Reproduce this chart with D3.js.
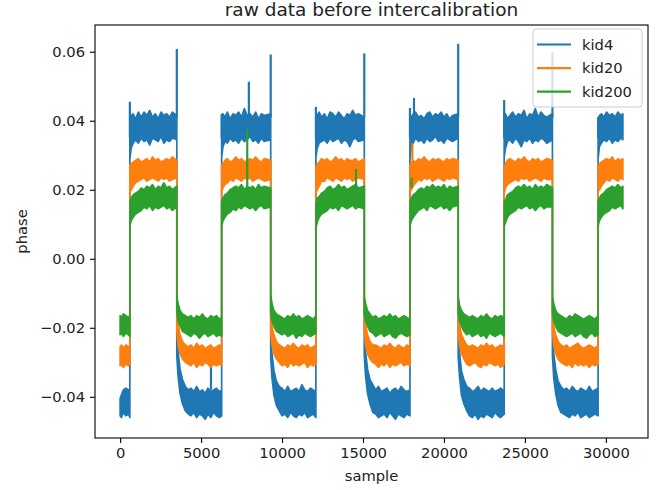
<!DOCTYPE html>
<html><head><meta charset="utf-8">
<script src="https://cdn.jsdelivr.net/npm/d3@7"></script>
<style>body{margin:0;background:#fff} text{font-family:"DejaVu Sans",sans-serif}</style>
</head><body><svg id="c" width="671" height="490"></svg>
<script>
const seriesNames = ["kid4", "kid20", "kid200"];
const seriesColors = ["#1f77b4", "#ff7f0e", "#2ca02c"];
const titleText = "raw data before intercalibration";
const xLabel = "sample", yLabel = "phase";
const xTicks = [0, 5000, 10000, 15000, 20000, 25000, 30000];
const yTicks = [-0.04, -0.02, 0.00, 0.02, 0.04, 0.06];

// segments of the square wave (sample index), alternating low/high
const segStart = [0, 600, 3500, 6270, 9300, 12090, 15080, 17900, 20880, 23720, 26700, 29520];
const segEnd   = [600, 3500, 6270, 9300, 12090, 15080, 17900, 20880, 23720, 26700, 29520, 31050];
// sample offsets (from segment start) at which the trace edges were read; last point = segment end
const segOffsets = [0, 80, 200, 350, 525, 700, 875, 1050, 1225, 1400, 1575, 1750, 1925, 2100, 2275, 2450, 2625];

// upper / lower edge of each noisy trace, read per segment
const kid4Hi = [
 [-.0405, -.0395, -.038, -.0375, -.038, -.0385],
 [.041, .0415, .042, .0405, .0425, .041, .0425, .0415, .043, .041, .042, .0405, .0425, .0415, .042, .041, .0425, .0415],
 [-.020, -.027, -.032, -.035, -.037, -.038, -.0375, -.0385, -.037, -.0385, -.038, -.039, -.0375, -.0385, -.038, -.0375, -.0385, -.038],
 [.0405, .042, .041, .0425, .0405, .042, .0415, .0425, .041, .0435, .0415, .042, .041, .0425, .0405, .042, .0415, .042],
 [-.0205, -.0275, -.0325, -.0355, -.037, -.0375, -.0385, -.037, -.0385, -.038, -.0375, -.0385, -.0365, -.038, -.0385, -.0375, -.038, -.0385],
 [.041, .0415, .0425, .041, .042, .0405, .0425, .042, .041, .0425, .0415, .0405, .042, .0415, .043, .0415, .042, .041],
 [-.020, -.027, -.032, -.035, -.0365, -.038, -.037, -.0385, -.038, -.0375, -.039, -.038, -.0375, -.0385, -.037, -.038, -.0385, -.038],
 [.0415, .041, .042, .0425, .041, .0415, .0405, .042, .0425, .041, .042, .0415, .0425, .041, .042, .0405, .0415, .042],
 [-.0205, -.027, -.0325, -.035, -.037, -.0375, -.0385, -.038, -.037, -.0385, -.0375, -.038, -.0385, -.0375, -.0385, -.038, -.0375, -.0385],
 [.041, .042, .0405, .0415, .0425, .041, .042, .0415, .043, .0405, .042, .0415, .0435, .041, .0425, .0415, .041, .042],
 [-.020, -.0275, -.032, -.0355, -.037, -.038, -.0375, -.0385, -.037, -.038, -.0385, -.0375, -.038, -.0385, -.037, -.0385, -.038, -.0375],
 [.0405, .0415, .042, .041, .0425, .0415, .042, .041, .0425, .0415, .042]
];
const kid4Lo = [
 [-.0455, -.046, -.0445, -.0455, -.045, -.046],
 [.029, .032, .0335, .0345, .0335, .035, .034, .0345, .033, .035, .0345, .034, .0355, .0335, .0345, .034, .035, .0345],
 [-.028, -.034, -.039, -.042, -.044, -.045, -.0455, -.0445, -.046, -.045, -.0455, -.0465, -.045, -.046, -.0445, -.0455, -.046, -.0455],
 [.0295, .0325, .034, .0335, .035, .034, .0345, .0335, .035, .034, .0345, .0355, .034, .0345, .0335, .035, .034, .0345],
 [-.0285, -.0345, -.0395, -.0425, -.044, -.0455, -.045, -.046, -.0445, -.0455, -.046, -.045, -.0455, -.0445, -.046, -.0455, -.045, -.046],
 [.0295, .032, .0335, .034, .0345, .0335, .035, .034, .0345, .035, .0335, .0345, .034, .0325, .0345, .035, .034, .0345],
 [-.028, -.034, -.039, -.042, -.0445, -.045, -.046, -.0455, -.045, -.046, -.0445, -.0455, -.0465, -.045, -.0455, -.046, -.045, -.0455],
 [.029, .0325, .0335, .035, .034, .0345, .0335, .035, .034, .0345, .0355, .034, .0345, .0335, .035, .0345, .034, .035],
 [-.0285, -.034, -.0395, -.042, -.044, -.0455, -.046, -.045, -.0465, -.0455, -.046, -.045, -.0455, -.046, -.0445, -.0455, -.046, -.045],
 [.0295, .032, .034, .0345, .0335, .035, .034, .0325, .0345, .034, .035, .0335, .0345, .034, .035, .0345, .0335, .0345],
 [-.028, -.0345, -.039, -.0425, -.0445, -.045, -.0455, -.046, -.045, -.0455, -.0445, -.046, -.0455, -.045, -.046, -.0455, -.045, -.0455],
 [.029, .0325, .0335, .0345, .034, .035, .0335, .0345, .034, .035, .0345]
];
const kid20Hi = [
 [-.0255, -.025, -.026, -.025, -.0255, -.0255],
 [.027, .0275, .028, .0285, .029, .028, .0285, .029, .028, .0295, .0285, .029, .028, .0285, .029, .0285, .0295, .0285],
 [-.016, -.019, -.022, -.024, -.025, -.0255, -.025, -.026, -.0245, -.0255, -.025, -.026, -.0255, -.025, -.026, -.0255, -.025, -.0255],
 [.027, .0275, .0285, .029, .028, .0285, .0295, .0285, .029, .028, .0285, .029, .0285, .0295, .0285, .028, .029, .0285],
 [-.016, -.0195, -.022, -.024, -.025, -.0255, -.026, -.025, -.0255, -.0245, -.0255, -.026, -.025, -.0255, -.025, -.026, -.0255, -.025],
 [.0265, .0275, .028, .029, .0285, .029, .028, .0285, .0295, .0285, .029, .028, .029, .0285, .0285, .029, .028, .029],
 [-.0155, -.019, -.022, -.024, -.025, -.025, -.0255, -.026, -.025, -.0255, -.0245, -.0255, -.026, -.025, -.0255, -.026, -.025, -.0255],
 [.027, .028, .0285, .028, .029, .0285, .0295, .0285, .028, .029, .0285, .029, .0285, .028, .029, .0285, .029, .0285],
 [-.016, -.019, -.022, -.0235, -.025, -.0255, -.025, -.0255, -.026, -.025, -.0255, -.0245, -.0255, -.025, -.026, -.0255, -.025, -.0255],
 [.0265, .0275, .0285, .029, .0285, .028, .029, .0285, .0295, .0285, .028, .029, .0285, .029, .028, .0285, .029, .0285],
 [-.016, -.0195, -.022, -.024, -.025, -.0255, -.025, -.026, -.0255, -.025, -.0245, -.0255, -.026, -.0255, -.025, -.0255, -.026, -.025],
 [.027, .0275, .028, .0285, .029, .0285, .0295, .028, .029, .0285, .029]
];
const kid20Lo = [
 [-.031, -.0305, -.0315, -.0305, -.031, -.0305],
 [.019, .020, .021, .022, .0225, .023, .0235, .0225, .023, .0235, .023, .0225, .0235, .023, .0235, .0225, .023, .0235],
 [-.021, -.025, -.0275, -.029, -.030, -.0305, -.031, -.030, -.0315, -.0305, -.031, -.030, -.0305, -.0315, -.0305, -.031, -.0305, -.031],
 [.0195, .0205, .0215, .022, .023, .0225, .0235, .023, .0225, .0235, .023, .0235, .0225, .023, .0235, .023, .0225, .023],
 [-.0215, -.025, -.0275, -.029, -.030, -.031, -.0305, -.0315, -.030, -.031, -.0305, -.031, -.0305, -.030, -.0315, -.0305, -.031, -.0305],
 [.019, .020, .021, .0225, .0225, .0235, .023, .0225, .0235, .023, .0225, .0235, .023, .0235, .0225, .023, .0235, .023],
 [-.021, -.025, -.0275, -.029, -.030, -.0305, -.0315, -.0305, -.031, -.030, -.0315, -.0305, -.031, -.0305, -.030, -.031, -.0305, -.031],
 [.0195, .020, .021, .022, .023, .0225, .0235, .023, .0235, .0225, .023, .0235, .023, .0225, .0235, .023, .0235, .023],
 [-.0215, -.025, -.0275, -.029, -.0305, -.031, -.0305, -.030, -.031, -.0315, -.0305, -.031, -.030, -.0305, -.031, -.0305, -.0315, -.0305],
 [.019, .0205, .0215, .022, .0225, .023, .0225, .0235, .023, .0235, .0225, .023, .0235, .023, .0225, .0235, .023, .023],
 [-.021, -.025, -.0275, -.029, -.030, -.0305, -.031, -.0305, -.0315, -.030, -.031, -.0305, -.031, -.0305, -.0315, -.0305, -.031, -.0305],
 [.0195, .020, .021, .022, .023, .0225, .0235, .023, .0225, .0235, .023]
];
const kid200Hi = [
 [-.0165, -.017, -.016, -.0165, -.017, -.0165],
 [.0165, .0175, .0185, .019, .0195, .0205, .020, .021, .0205, .0215, .020, .021, .0205, .022, .0205, .021, .020, .021],
 [-.011, -.013, -.015, -.016, -.0165, -.017, -.0165, -.0175, -.0165, -.017, -.016, -.017, -.0175, -.0165, -.017, -.0165, -.0175, -.017],
 [.0165, .0175, .0185, .019, .020, .0205, .021, .0205, .0215, .020, .021, .0205, .021, .020, .0215, .0205, .021, .0205],
 [-.0105, -.013, -.015, -.016, -.0165, -.017, -.0175, -.0165, -.017, -.016, -.017, -.0165, -.0175, -.017, -.0165, -.017, -.0175, -.0165],
 [.016, .0175, .018, .019, .0195, .0205, .021, .020, .0205, .0215, .0205, .021, .020, .0205, .021, .0215, .0205, .021],
 [-.011, -.013, -.015, -.016, -.017, -.0165, -.0175, -.017, -.0165, -.017, -.016, -.017, -.0165, -.0175, -.017, -.0165, -.017, -.0175],
 [.0165, .0175, .0185, .019, .020, .0205, .020, .021, .0205, .0215, .0205, .021, .0205, .0215, .020, .021, .0205, .021],
 [-.011, -.0135, -.015, -.016, -.0165, -.017, -.0165, -.017, -.0175, -.0165, -.017, -.016, -.017, -.0175, -.0165, -.017, -.0165, -.017],
 [.0165, .017, .0185, .019, .0195, .0205, .021, .0205, .0215, .0205, .021, .020, .0215, .0205, .021, .0205, .0215, .0205],
 [-.011, -.013, -.015, -.016, -.0165, -.017, -.0175, -.0165, -.017, -.016, -.0165, -.017, -.0175, -.017, -.0165, -.017, -.0175, -.0165],
 [.0165, .0175, .0185, .019, .020, .0205, .021, .0205, .0215, .0205, .021]
];
const kid200Lo = [
 [-.022, -.0215, -.0225, -.0215, -.022, -.0225],
 [.0095, .011, .012, .013, .0135, .014, .015, .0145, .0155, .014, .015, .0145, .015, .0155, .0145, .015, .014, .015],
 [-.0155, -.018, -.0195, -.021, -.0215, -.022, -.0225, -.0215, -.022, -.023, -.022, -.0215, -.0225, -.022, -.0215, -.0225, -.022, -.0225],
 [.0095, .011, .012, .013, .0135, .0145, .014, .015, .0145, .0155, .015, .0145, .015, .014, .015, .0155, .0145, .015],
 [-.0155, -.018, -.0195, -.021, -.0215, -.022, -.0215, -.0225, -.022, -.0215, -.023, -.022, -.0225, -.0215, -.022, -.0225, -.022, -.0215],
 [.009, .0105, .012, .013, .0135, .014, .015, .0145, .015, .014, .0155, .015, .0145, .015, .0155, .0145, .015, .0145],
 [-.016, -.018, -.0195, -.021, -.0215, -.0225, -.022, -.0215, -.0225, -.022, -.0215, -.0225, -.023, -.022, -.0215, -.022, -.0225, -.022],
 [.0095, .011, .012, .013, .014, .0145, .015, .014, .0155, .015, .0145, .015, .0155, .0145, .015, .014, .015, .0155],
 [-.0155, -.018, -.0195, -.021, -.022, -.0215, -.0225, -.022, -.0215, -.0225, -.022, -.023, -.0215, -.022, -.0225, -.022, -.0215, -.0225],
 [.0095, .0105, .012, .013, .0135, .014, .015, .0145, .015, .0155, .0145, .015, .014, .015, .0155, .0145, .015, .015],
 [-.0155, -.018, -.0195, -.021, -.0215, -.022, -.0225, -.022, -.0215, -.0225, -.022, -.0215, -.0225, -.023, -.022, -.0215, -.0225, -.022],
 [.0095, .011, .012, .013, .0135, .014, .015, .0145, .015, .0155, .0145]
];
// isolated spikes: [sample, from, to]
const kid4Spikes = [[600, .035, .0455], [3500, .041, .0608], [6270, .035, .042], [7950, .041, .0513],
  [9300, .041, .0592], [12090, .035, .044], [15080, .041, .0595], [17900, .035, .0437], [18150, .041, .0466],
  [20880, .041, .0623], [23720, .035, .046], [26700, .041, .060], [29520, .035, .041], [5610, -.038, -.030]];
const kid20Spikes = [[18050, .0285, .0335]];
const kid200Spikes = [[7850, .0205, .0375], [14570, .0205, .026], [18000, .0205, .0235]];

const M = {left: 95, right: 648, top: 25, bottom: 438};
const xData = [0, 31050], yData = [-0.0465, 0.0623];
const xPad = (xData[1] - xData[0]) * 0.05, yPad = (yData[1] - yData[0]) * 0.05;
const x = d3.scaleLinear().domain([xData[0] - xPad, xData[1] + xPad]).range([M.left, M.right]);
const y = d3.scaleLinear().domain([yData[0] - yPad, yData[1] + yPad]).range([M.bottom, M.top]);
const svg = d3.select("#c");

function bandPoints(hi, lo) {
  const pts = [];
  segStart.forEach((s, k) => {
    const xs = segOffsets.filter(o => o < segEnd[k] - s).map(o => s + o).concat([segEnd[k]]);
    xs.forEach((sx, i) => {
      if (hi[k][i] !== undefined && lo[k][i] !== undefined) pts.push({x: sx, hi: hi[k][i], lo: lo[k][i]});
    });
  });
  return pts;
}
const series = [
  {hi: kid4Hi, lo: kid4Lo, spikes: kid4Spikes},
  {hi: kid20Hi, lo: kid20Lo, spikes: kid20Spikes},
  {hi: kid200Hi, lo: kid200Lo, spikes: kid200Spikes}
];
const area = d3.area().x(d => x(d.x)).y0(d => y(d.lo)).y1(d => y(d.hi));
const plot = svg.append("g");
series.forEach((s, i) => {
  const g = plot.append("g");
  g.append("path").datum(bandPoints(s.hi, s.lo)).attr("d", area)
    .attr("fill", seriesColors[i]).attr("stroke", seriesColors[i])
    .attr("stroke-width", 1.7).attr("stroke-linejoin", "round");
  g.selectAll("line").data(s.spikes).join("line")
    .attr("x1", d => x(d[0])).attr("x2", d => x(d[0]))
    .attr("y1", d => y(d[1])).attr("y2", d => y(d[2]))
    .attr("stroke", seriesColors[i]).attr("stroke-width", 2.2);
});

// frame
svg.append("rect").attr("x", M.left).attr("y", M.top)
  .attr("width", M.right - M.left).attr("height", M.bottom - M.top)
  .attr("fill", "none").attr("stroke", "#000").attr("stroke-width", 1.1);

const fmtY = v => d3.format(".2f")(v).replace("-", "\u2212");
const xAxis = svg.append("g").attr("transform", `translate(0,${M.bottom})`)
  .call(d3.axisBottom(x).tickValues(xTicks).tickSize(5).tickPadding(5).tickFormat(d3.format("d")));
const yAxis = svg.append("g").attr("transform", `translate(${M.left},0)`)
  .call(d3.axisLeft(y).tickValues(yTicks).tickSize(5).tickPadding(5).tickFormat(fmtY));
[xAxis, yAxis].forEach(a => {
  a.select(".domain").remove();
  a.selectAll("line").attr("stroke", "#000").attr("stroke-width", 1.1);
  a.selectAll("text").attr("font-family", "DejaVu Sans").attr("font-size", 14.7).attr("fill", "#222");
});

svg.append("text").attr("x", (M.left + M.right) / 2).attr("y", 16).attr("text-anchor", "middle")
  .attr("font-size", 18.5).attr("fill", "#222").text(titleText);
svg.append("text").attr("x", (M.left + M.right) / 2).attr("y", 481).attr("text-anchor", "middle")
  .attr("font-size", 14.7).attr("fill", "#222").text(xLabel);
svg.append("text").attr("transform", `translate(27,${(M.top + M.bottom) / 2}) rotate(-90)`)
  .attr("text-anchor", "middle").attr("font-size", 14.7).attr("fill", "#222").text(yLabel);

// legend
const lg = svg.append("g");
lg.append("rect").attr("x", 533).attr("y", 29).attr("width", 109).attr("height", 78).attr("rx", 3)
  .attr("fill", "#fff").attr("fill-opacity", 0.8).attr("stroke", "#ccc").attr("stroke-width", 1);
seriesNames.forEach((n, i) => {
  const yy = 44.5 + i * 23.6;
  lg.append("line").attr("x1", 537).attr("x2", 571).attr("y1", yy).attr("y2", yy)
    .attr("stroke", seriesColors[i]).attr("stroke-width", 2.2);
  lg.append("text").attr("x", 582).attr("y", yy).attr("dy", "0.35em")
    .attr("font-size", 14.7).attr("fill", "#222").text(n);
});
</script></body></html>
